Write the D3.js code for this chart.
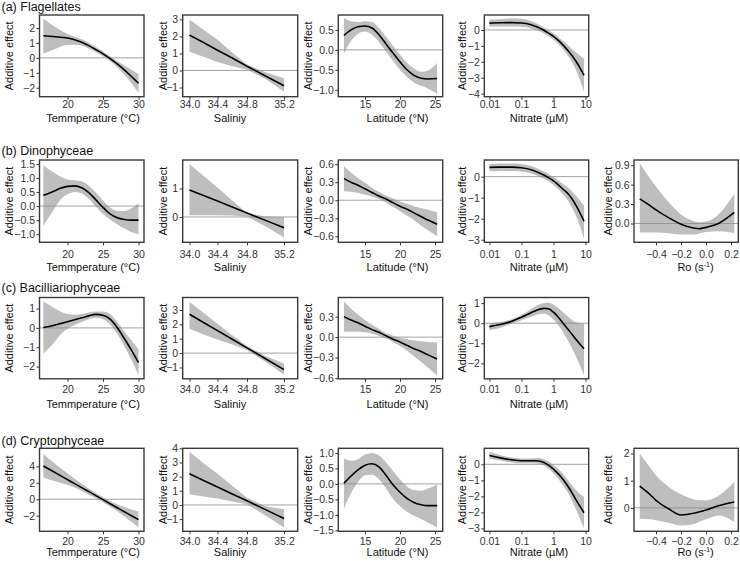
<!DOCTYPE html>
<html><head><meta charset="utf-8">
<script src="https://cdn.jsdelivr.net/npm/d3@7"></script>
<style>
body{margin:0;background:#fff}
svg{display:block}
text{font-family:"Liberation Sans",Arial,Helvetica,sans-serif}
</style>
</head><body><svg id="chart" width="740" height="561"></svg>
<script>
// ---------------- DATA ----------------
const groupTitles = ["(a) Flagellates", "(b) Dinophyceae", "(c) Bacilliariophyceae", "(d) Cryptophyceae"];
const xTitles = ["Temmperature (°C)", "Saliniy", "Latitude (°N)", "Nitrate (µM)", "Ro (s", "-1", ")"];
const yTitle = "Additive effect";

// predictor grids (x values)
const tempX = [16.6, 18, 19, 20, 21, 22, 23, 24, 25, 26, 27, 28, 29, 30];
const salX  = [34.0, 34.2, 34.4, 34.6, 34.8, 35.0, 35.2];
const latX  = [12, 13, 14, 15, 16, 17, 18, 19, 20, 21, 22, 23, 24, 25.3];
const nitX  = [0.01, 0.02, 0.05, 0.1, 0.2, 0.3, 0.5, 0.7, 1, 2, 3, 5, 9];
const roX   = [-0.53, -0.45, -0.4, -0.3, -0.2, -0.1, -0.05, 0, 0.1, 0.226];

// x tick labels
const tempTicks = [20, 25, 30];
const salTicks  = [34.0, 34.4, 34.8, 35.2];
const latTicks  = [15, 20, 25];
const nitTicks  = [0.01, 0.1, 1, 10];
const nitTickLabels = ["0.01", "0.1", "1", "10"];
const roTicks   = [-0.4, -0.2, 0.0, 0.2];

// (a) Flagellates
const flagTempFit = [1.48, 1.43, 1.38, 1.33, 1.22, 1.05, 0.82, 0.55, 0.27, -0.05, -0.4, -0.8, -1.25, -1.7];
const flagTempUpr = [2.62, 2.15, 1.85, 1.6, 1.42, 1.25, 1.02, 0.72, 0.42, 0.1, -0.22, -0.5, -0.8, -1.1];
const flagTempLwr = [0.3, 0.55, 0.75, 0.86, 0.88, 0.83, 0.62, 0.38, 0.1, -0.22, -0.62, -1.12, -1.7, -2.35];
const flagSalFit = [2.08, 1.64, 1.19, 0.73, 0.25, -0.32, -0.9];
const flagSalUpr = [3.0, 2.4, 1.8, 1.05, 0.35, -0.1, -0.45];
const flagSalLwr = [1.1, 0.8, 0.5, 0.25, 0.05, -0.5, -1.25];
const flagLatFit = [0.36, 0.5, 0.58, 0.6, 0.55, 0.38, 0.15, -0.08, -0.3, -0.5, -0.64, -0.71, -0.73, -0.72];
const flagLatUpr = [0.8, 0.72, 0.7, 0.72, 0.7, 0.55, 0.33, 0.1, -0.12, -0.32, -0.47, -0.55, -0.52, -0.33];
const flagLatLwr = [-0.1, 0.22, 0.4, 0.46, 0.38, 0.2, -0.04, -0.28, -0.5, -0.68, -0.82, -0.9, -0.97, -1.1];
const flagNitFit = [0.43, 0.45, 0.46, 0.44, 0.33, 0.2, -0.02, -0.2, -0.4, -0.95, -1.35, -1.95, -2.85];
const flagNitUpr = [0.65, 0.68, 0.72, 0.7, 0.55, 0.4, 0.15, -0.02, -0.2, -0.7, -1.0, -1.4, -1.8];
const flagNitLwr = [0.2, 0.22, 0.22, 0.2, 0.1, -0.02, -0.2, -0.4, -0.62, -1.22, -1.7, -2.5, -3.9];

// (b) Dinophyceae
const dinoTempFit = [0.38, 0.52, 0.63, 0.7, 0.72, 0.65, 0.48, 0.22, -0.05, -0.28, -0.42, -0.48, -0.5, -0.5];
const dinoTempUpr = [1.45, 1.2, 1.05, 0.95, 0.92, 0.88, 0.72, 0.48, 0.2, -0.05, -0.17, -0.18, -0.08, 0.1];
const dinoTempLwr = [-0.7, -0.15, 0.22, 0.42, 0.5, 0.45, 0.26, -0.02, -0.28, -0.48, -0.65, -0.8, -0.92, -1.0];
const dinoSalFit = [0.95, 0.75, 0.56, 0.35, 0.14, -0.12, -0.38];
const dinoSalUpr = [1.85, 1.45, 1.03, 0.58, 0.14, 0.02, 0.0];
const dinoSalLwr = [0.06, 0.06, 0.06, 0.05, 0.02, -0.33, -0.72];
const dinoLatFit = [0.36, 0.3, 0.25, 0.19, 0.13, 0.07, 0.02, -0.04, -0.1, -0.15, -0.21, -0.27, -0.33, -0.4];
const dinoLatUpr = [0.57, 0.46, 0.37, 0.29, 0.21, 0.14, 0.08, 0.03, -0.02, -0.06, -0.1, -0.13, -0.16, -0.2];
const dinoLatLwr = [0.15, 0.14, 0.12, 0.09, 0.06, 0.02, -0.04, -0.11, -0.18, -0.26, -0.33, -0.42, -0.5, -0.6];
const dinoNitFit = [0.44, 0.45, 0.45, 0.42, 0.33, 0.23, 0.08, -0.05, -0.2, -0.6, -0.85, -1.35, -2.12];
const dinoNitUpr = [0.6, 0.62, 0.62, 0.6, 0.5, 0.4, 0.25, 0.12, -0.02, -0.35, -0.55, -0.9, -1.38];
const dinoNitLwr = [0.25, 0.27, 0.27, 0.24, 0.15, 0.05, -0.1, -0.22, -0.4, -0.85, -1.2, -1.85, -2.95];
const dinoRoFit = [0.38, 0.28, 0.21, 0.09, -0.01, -0.07, -0.08, -0.06, 0.0, 0.17];
const dinoRoUpr = [0.93, 0.7, 0.57, 0.33, 0.14, 0.04, 0.02, 0.03, 0.14, 0.46];
const dinoRoLwr = [-0.14, -0.14, -0.14, -0.15, -0.17, -0.17, -0.15, -0.13, -0.12, -0.15];

// (c) Bacilliariophyceae
const bacTempFit = [0.02, 0.12, 0.22, 0.32, 0.42, 0.52, 0.62, 0.7, 0.65, 0.45, 0.02, -0.55, -1.15, -1.8];
const bacTempUpr = [1.38, 1.05, 0.85, 0.72, 0.68, 0.72, 0.8, 0.85, 0.85, 0.72, 0.32, -0.18, -0.65, -1.12];
const bacTempLwr = [-1.32, -0.8, -0.35, -0.05, 0.15, 0.3, 0.45, 0.52, 0.45, 0.18, -0.32, -0.95, -1.65, -2.45];
const bacSalFit = [2.7, 2.13, 1.56, 0.96, 0.36, -0.39, -1.15];
const bacSalUpr = [3.55, 2.8, 2.05, 1.25, 0.5, -0.2, -0.72];
const bacSalLwr = [1.7, 1.3, 0.95, 0.6, 0.2, -0.6, -1.5];
const bacLatFit = [0.3, 0.25, 0.21, 0.16, 0.11, 0.07, 0.02, -0.03, -0.07, -0.12, -0.17, -0.21, -0.26, -0.32];
const bacLatUpr = [0.52, 0.42, 0.33, 0.25, 0.18, 0.12, 0.06, 0.02, -0.01, -0.03, -0.05, -0.06, -0.07, -0.08];
const bacLatLwr = [0.08, 0.08, 0.08, 0.07, 0.05, 0.02, -0.02, -0.07, -0.13, -0.2, -0.28, -0.36, -0.45, -0.56];
const bacNitFit = [-0.17, -0.08, 0.1, 0.3, 0.52, 0.65, 0.74, 0.72, 0.55, 0.0, -0.35, -0.8, -1.28];
const bacNitUpr = [0.0, 0.05, 0.2, 0.42, 0.7, 0.88, 1.0, 1.02, 0.92, 0.55, 0.3, 0.05, -0.02];
const bacNitLwr = [-0.35, -0.25, -0.02, 0.15, 0.32, 0.42, 0.47, 0.4, 0.18, -0.45, -0.95, -1.65, -2.6];

// (d) Cryptophyceae
const cryTempFit = [4.05, 3.37, 2.88, 2.39, 1.9, 1.42, 0.93, 0.44, -0.05, -0.54, -1.03, -1.52, -2.0, -2.48];
const cryTempUpr = [5.5, 4.5, 3.8, 3.15, 2.5, 1.9, 1.3, 0.75, 0.25, -0.2, -0.6, -0.95, -1.25, -1.5];
const cryTempLwr = [2.65, 2.25, 2.0, 1.75, 1.4, 1.0, 0.55, 0.12, -0.35, -0.9, -1.45, -2.1, -2.75, -3.45];
const crySalFit = [2.2, 1.73, 1.27, 0.78, 0.29, -0.33, -0.95];
const crySalUpr = [3.75, 2.95, 2.2, 1.35, 0.5, -0.1, -0.3];
const crySalLwr = [0.75, 0.6, 0.45, 0.25, 0.05, -0.75, -1.6];
const cryLatFit = [0.02, 0.25, 0.45, 0.6, 0.65, 0.55, 0.28, -0.03, -0.27, -0.47, -0.6, -0.67, -0.7, -0.7];
const cryLatUpr = [0.82, 0.75, 0.8, 0.95, 1.0, 0.92, 0.7, 0.42, 0.15, -0.08, -0.2, -0.22, -0.15, -0.02];
const cryLatLwr = [-0.8, -0.3, 0.05, 0.28, 0.3, 0.15, -0.15, -0.48, -0.72, -0.9, -1.03, -1.13, -1.25, -1.4];
const cryNitFit = [0.55, 0.42, 0.28, 0.22, 0.22, 0.22, 0.12, -0.05, -0.3, -0.95, -1.45, -2.2, -3.02];
const cryNitUpr = [0.8, 0.6, 0.42, 0.36, 0.38, 0.4, 0.32, 0.18, -0.05, -0.6, -1.05, -1.6, -2.05];
const cryNitLwr = [0.33, 0.25, 0.12, 0.06, 0.06, 0.05, -0.08, -0.28, -0.55, -1.3, -1.85, -2.8, -4.0];
const cryRoFit = [0.8, 0.5, 0.28, -0.03, -0.26, -0.2, -0.14, -0.08, 0.08, 0.22];
const cryRoUpr = [2.0, 1.5, 1.2, 0.78, 0.5, 0.32, 0.28, 0.28, 0.45, 0.95];
const cryRoLwr = [-0.4, -0.42, -0.45, -0.55, -0.65, -0.6, -0.5, -0.42, -0.28, -0.52];

// y ticks per panel
const ticksA = [[-2,-1,0,1,2], [-1,0,1,2,3], [-1,-0.5,0,0.5], [-4,-3,-2,-1,0]];
const ticksB = [[-1,-0.5,0,0.5,1,1.5], [0,1], [-0.6,-0.3,0,0.3,0.6], [-3,-2,-1,0], [0,0.3,0.6,0.9]];
const ticksC = [[-2,-1,0,1], [-1,0,1,2,3], [-0.6,-0.3,0,0.3], [-2,-1,0,1]];
const ticksD = [[-2,0,2,4], [-1,0,1,2,3,4], [-1.5,-1,-0.5,0,0.5,1], [-4,-3,-2,-1,0], [0,1,2]];
const ticksD4Labels = ["−3", "−2", "−2", "−1", "0"];

// ---------------- LAYOUT ----------------
const colBox = [[39.5,144],[182.7,297.7],[338.3,442.7],[484.3,588.7],[634,738.3]];
const rowBox = [[15,96.7],[160,242.3],[297.5,378.8],[448.3,531.3]];
const titleBase = [11, 154.5, 292, 445];
const xTickBase = [108, 258, 393, 545];
const xTitleBase = [121.5, 271, 407.5, 556];
const xTitleCx = [93, 230, 397.5, 539, 695.5];
const yTitleX = [13.3, 166.7, 312, 466, 611.7];

function xScale(col) {
  const [l, r] = colBox[col];
  if (col === 0) return d3.scaleLinear().domain([16.06, 30.77]).range([l, r]);
  if (col === 1) return d3.scaleLinear().domain([33.91, 34.0, 34.4, 34.8, 35.2, 35.37]).range([l, 189.5, 217.5, 247, 284, r]);
  if (col === 2) return d3.scaleLinear().domain([11.19, 26.1]).range([l, r]);
  if (col === 3) return d3.scaleLog().domain([Math.pow(10, -2.16), Math.pow(10, 1.1)]).range([l, r]);
  return d3.scaleLinear().domain([-0.576, 0.258]).range([l, r]);
}
const xs = [tempX, salX, latX, nitX, roX];
const xTickSets = [tempTicks, salTicks, latTicks, nitTicks, roTicks];
const xTickFmt = [d3.format("d"), d3.format(".1f"), d3.format("d"), (d, i) => nitTickLabels[i], d3.format(".1f")];

const panels = [
  {r:0,c:0,fit:flagTempFit,upr:flagTempUpr,lwr:flagTempLwr,yd:[-2.6,2.87],yt:ticksA[0],f:"d"},
  {r:0,c:1,fit:flagSalFit,upr:flagSalUpr,lwr:flagSalLwr,yd:[-1.54,3.26],yt:ticksA[1],f:"d"},
  {r:0,c:2,fit:flagLatFit,upr:flagLatUpr,lwr:flagLatLwr,yd:[-1.175,0.875],yt:ticksA[2],f:".1f"},
  {r:0,c:3,fit:flagNitFit,upr:flagNitUpr,lwr:flagNitLwr,yd:[-4.19,0.94],yt:ticksA[3],f:"d"},
  {r:1,c:0,fit:dinoTempFit,upr:dinoTempUpr,lwr:dinoTempLwr,yd:[-1.29,1.64],yt:ticksB[0],f:".1f"},
  {r:1,c:1,fit:dinoSalFit,upr:dinoSalUpr,lwr:dinoSalLwr,yd:[-0.89,2.0],yt:ticksB[1],f:"d"},
  {r:1,c:2,fit:dinoLatFit,upr:dinoLatUpr,lwr:dinoLatLwr,yd:[-0.70,0.67],yt:ticksB[2],f:".1f"},
  {r:1,c:3,fit:dinoNitFit,upr:dinoNitUpr,lwr:dinoNitLwr,yd:[-3.12,0.79],yt:ticksB[3],f:"d"},
  {r:1,c:4,fit:dinoRoFit,upr:dinoRoUpr,lwr:dinoRoLwr,yd:[-0.29,0.98],yt:ticksB[4],f:".1f"},
  {r:2,c:0,fit:bacTempFit,upr:bacTempUpr,lwr:bacTempLwr,yd:[-2.63,1.57],yt:ticksC[0],f:"d"},
  {r:2,c:1,fit:bacSalFit,upr:bacSalUpr,lwr:bacSalLwr,yd:[-1.79,3.87],yt:ticksC[1],f:"d"},
  {r:2,c:2,fit:bacLatFit,upr:bacLatUpr,lwr:bacLatLwr,yd:[-0.61,0.58],yt:ticksC[2],f:".1f"},
  {r:2,c:3,fit:bacNitFit,upr:bacNitUpr,lwr:bacNitLwr,yd:[-2.77,1.28],yt:ticksC[3],f:"d"},
  {r:3,c:0,fit:cryTempFit,upr:cryTempUpr,lwr:cryTempLwr,yd:[-3.9,6.2],yt:ticksD[0],f:"d"},
  {r:3,c:1,fit:crySalFit,upr:crySalUpr,lwr:crySalLwr,yd:[-1.86,4.0],yt:ticksD[1],f:"d"},
  {r:3,c:2,fit:cryLatFit,upr:cryLatUpr,lwr:cryLatLwr,yd:[-1.53,1.15],yt:ticksD[2],f:".1f"},
  {r:3,c:3,fit:cryNitFit,upr:cryNitUpr,lwr:cryNitLwr,yd:[-4.18,1.0],yt:ticksD[3],f:"d",labels:ticksD4Labels},
  {r:3,c:4,fit:cryRoFit,upr:cryRoUpr,lwr:cryRoLwr,yd:[-0.86,2.19],yt:ticksD[4],f:"d"}
];

// ---------------- DRAW ----------------
const svg = d3.select("#chart");
const ink = "#333333";

groupTitles.forEach((t, i) => {
  svg.append("text").attr("x", 1.5).attr("y", titleBase[i])
    .attr("font-size", "12.5px").attr("fill", "#111").text(t);
});

panels.forEach((p, idx) => {
  const [l, r] = colBox[p.c];
  const [t, b] = rowBox[p.r];
  const x = xScale(p.c);
  const y = d3.scaleLinear().domain(p.yd).range([b, t]);
  const xv = xs[p.c];
  const data = xv.map((v, i) => ({x: v, fit: p.fit[i], upr: p.upr[i], lwr: p.lwr[i]}));
  const g = svg.append("g");

  const clipId = "clip" + idx;
  g.append("clipPath").attr("id", clipId).append("rect")
    .attr("x", l).attr("y", t).attr("width", r - l).attr("height", b - t);

  const curve = p.c === 1 ? d3.curveLinear : d3.curveMonotoneX;
  const plot = g.append("g").attr("clip-path", `url(#${clipId})`);

  plot.append("path").datum(data)
    .attr("fill", "#bebebe")
    .attr("d", d3.area().x(d => x(d.x)).y0(d => y(d.lwr)).y1(d => y(d.upr)).curve(curve));

  plot.append("line")
    .attr("x1", l).attr("x2", r).attr("y1", y(0)).attr("y2", y(0))
    .attr("stroke", "#8a8a8a").attr("stroke-width", 0.8);

  plot.append("path").datum(data)
    .attr("fill", "none").attr("stroke", "#000").attr("stroke-width", 1.6)
    .attr("d", d3.line().x(d => x(d.x)).y(d => y(d.fit)).curve(curve));

  // y axis
  const fmt = d3.format(p.f);
  const yAxis = d3.axisLeft(y).tickValues(p.yt).tickSize(3).tickPadding(1.5)
    .tickFormat((d, i) => p.labels ? p.labels[i] : fmt(d));
  const ya = g.append("g").attr("transform", `translate(${l},0)`).call(yAxis);
  ya.select(".domain").remove();
  ya.selectAll("line").attr("stroke", ink);
  ya.selectAll("text").attr("font-size", "10.5px").attr("fill", ink)
    .attr("font-family", '"Liberation Sans",Arial,Helvetica,sans-serif');

  // x axis
  const xAxis = d3.axisBottom(x).tickValues(xTickSets[p.c]).tickSize(3).tickPadding(0)
    .tickFormat(xTickFmt[p.c]);
  const xa = g.append("g").attr("transform", `translate(0,${b})`).call(xAxis);
  xa.select(".domain").remove();
  xa.selectAll("line").attr("stroke", ink);
  xa.selectAll("text").attr("font-size", "10.5px").attr("fill", ink)
    .attr("font-family", '"Liberation Sans",Arial,Helvetica,sans-serif')
    .attr("dy", null).attr("y", xTickBase[p.r] - b);

  // panel border
  g.append("rect").attr("x", l).attr("y", t).attr("width", r - l).attr("height", b - t)
    .attr("fill", "none").attr("stroke", "#3a3a3a").attr("stroke-width", 1.4);

  // y title
  g.append("text")
    .attr("transform", `translate(${yTitleX[p.c]},${(t + b) / 2}) rotate(-90)`)
    .attr("text-anchor", "middle").attr("font-size", "11px").attr("fill", "#111")
    .text(yTitle);

  // x title
  const xt = g.append("text").attr("x", xTitleCx[p.c]).attr("y", xTitleBase[p.r])
    .attr("text-anchor", "middle").attr("font-size", "11px").attr("fill", "#111");
  if (p.c === 4) {
    xt.append("tspan").text(xTitles[4]);
    xt.append("tspan").attr("font-size", "7px").attr("dy", -4).text(xTitles[5]);
    xt.append("tspan").attr("dy", 4).text(xTitles[6]);
  } else {
    xt.text(xTitles[p.c]);
  }
});
</script>
</body></html>
